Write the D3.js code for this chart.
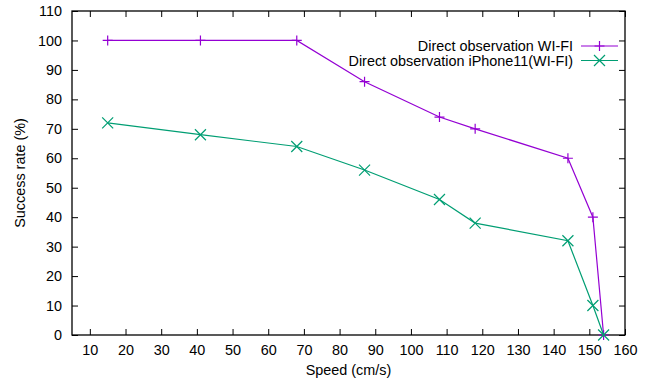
<!DOCTYPE html>
<html>
<head>
<meta charset="utf-8">
<style>
body { margin: 0; background: #fff; }
text { font-family: "Liberation Sans", Arial, sans-serif; fill: #000; }
</style>
</head>
<body>
<script src="https://d3js.org/d3.v7.min.js"></script>
<div id="chart"></div>
<script>
// speeds (cm/s), shared by both series
var speeds = [15, 41, 68, 87, 108, 118, 144, 151, 154];
var wifi = [100, 100, 100, 86, 74, 70, 60, 40, 0];
var iphone = [72, 68, 64, 56, 46, 38, 32, 10, 0];
var xTicks = d3.range(10, 161, 10);
var yTicks = d3.range(0, 111, 10);
var seriesNames = ["Direct observation WI-FI", "Direct observation iPhone11(WI-FI)"];
var seriesColors = ["#9400d3", "#009e73"];

var width = 653, height = 382;
var margin = {top: 11, right: 28, bottom: 47, left: 72};
var fs = "14.4px";

var svg = d3.select("#chart").append("svg")
    .attr("width", width)
    .attr("height", height);

var x = d3.scaleLinear().domain([5, 160]).range([margin.left, width - margin.right]);
var y = d3.scaleLinear().domain([0, 110]).range([height - margin.bottom, margin.top]);

var tick = 6;

// axes, gnuplot style: inward ticks mirrored on all sides
svg.append("g")
    .attr("transform", "translate(0," + y(0) + ")")
    .call(d3.axisBottom(x).tickValues(xTicks).tickSizeInner(-tick).tickSizeOuter(0).tickPadding(10))
    .call(g => g.select(".domain").remove())
    .selectAll("text").style("font-size", fs);

svg.append("g")
    .attr("transform", "translate(0," + y(110) + ")")
    .call(d3.axisTop(x).tickValues(xTicks).tickSizeInner(-tick).tickSizeOuter(0).tickFormat(""))
    .call(g => g.select(".domain").remove());

svg.append("g")
    .attr("transform", "translate(" + x(5) + ",0)")
    .call(d3.axisLeft(y).tickValues(yTicks).tickSizeInner(-tick).tickSizeOuter(0).tickPadding(10))
    .call(g => g.select(".domain").remove())
    .selectAll("text").style("font-size", fs);

svg.append("g")
    .attr("transform", "translate(" + x(160) + ",0)")
    .call(d3.axisRight(y).tickValues(yTicks).tickSizeInner(-tick).tickSizeOuter(0).tickFormat(""))
    .call(g => g.select(".domain").remove());

svg.selectAll(".tick line").attr("stroke", "#000").attr("stroke-width", 1);

// frame
svg.append("rect")
    .attr("x", x(5)).attr("y", y(110))
    .attr("width", x(160) - x(5)).attr("height", y(0) - y(110))
    .attr("fill", "none").attr("stroke", "#000").attr("stroke-width", 1.3);

// axis titles
svg.append("text")
    .attr("x", (x(5) + x(160)) / 2).attr("y", 375)
    .attr("text-anchor", "middle").style("font-size", fs)
    .text("Speed (cm/s)");

svg.append("text")
    .attr("transform", "translate(25," + (y(0) + y(110)) / 2 + ") rotate(-90)")
    .attr("text-anchor", "middle").style("font-size", fs)
    .text("Success rate (%)");

function plus(g, cx, cy, r, c) {
  g.append("path").attr("d", "M" + (cx - r) + "," + cy + "H" + (cx + r) + "M" + cx + "," + (cy - r) + "V" + (cy + r))
    .attr("stroke", c).attr("stroke-width", 1.2).attr("fill", "none");
}
function cross(g, cx, cy, r, c) {
  g.append("path").attr("d", "M" + (cx - r) + "," + (cy - r) + "L" + (cx + r) + "," + (cy + r) +
      "M" + (cx - r) + "," + (cy + r) + "L" + (cx + r) + "," + (cy - r))
    .attr("stroke", c).attr("stroke-width", 1.2).attr("fill", "none");
}
var markers = [plus, cross];

var line = d3.line()
    .x(function(d) { return x(d[0]); })
    .y(function(d) { return y(d[1]); });

[wifi, iphone].forEach(function(vals, i) {
  var pts = speeds.map(function(s, j) { return [s, vals[j]]; });
  var g = svg.append("g");
  g.append("path").datum(pts)
    .attr("d", line)
    .attr("fill", "none")
    .attr("stroke", seriesColors[i])
    .attr("stroke-width", 1.2);
  pts.forEach(function(p) { markers[i](g, x(p[0]), y(p[1]), i == 0 ? 5 : 5.5, seriesColors[i]); });

  // key
  var ky = 46 + i * 14.5;
  svg.append("text")
    .attr("x", 573).attr("y", ky).attr("dy", "0.35em")
    .attr("text-anchor", "end").style("font-size", fs)
    .text(seriesNames[i]);
  svg.append("line")
    .attr("x1", 581).attr("x2", 618).attr("y1", ky).attr("y2", ky)
    .attr("stroke", seriesColors[i]).attr("stroke-width", 1.2);
  markers[i](svg, 599.5, ky, i == 0 ? 5 : 5.5, seriesColors[i]);
});
</script>
</body>
</html>
